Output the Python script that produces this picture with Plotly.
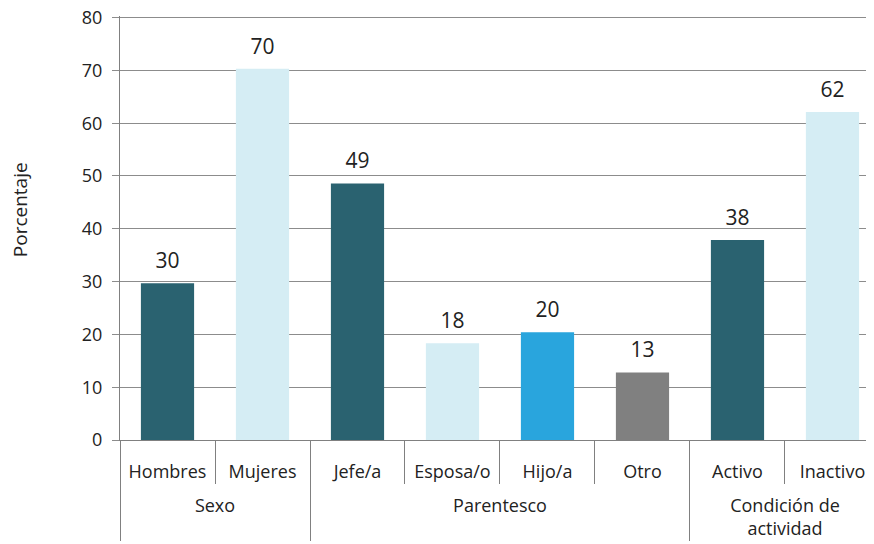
import plotly.graph_objects as go

grupos = ["Sexo", "Sexo", "Parentesco", "Parentesco", "Parentesco", "Parentesco",
          "Condición de<br>actividad", "Condición de<br>actividad"]
categorias = ["Hombres", "Mujeres", "Jefe/a", "Esposa/o", "Hijo/a", "Otro", "Activo", "Inactivo"]
valores = [29.7, 70.3, 48.6, 18.3, 20.4, 12.8, 37.9, 62.1]
etiquetas = ["30", "70", "49", "18", "20", "13", "38", "62"]
colores = ["#2a6270", "#d5edf4", "#2a6270", "#d5edf4", "#29a5dd", "#808080", "#2a6270", "#d5edf4"]
titulo_y = "Porcentaje"

FONT = "Open Sans"
# group labels are pushed one line lower, like the reference
grupos_eje = ["<br>" + g for g in grupos]
x_eje = [grupos_eje, categorias]

fig = go.Figure()
fig.add_bar(
    x=x_eje, y=valores,
    marker=dict(color=colores, line=dict(width=0)),
    width=0.56, showlegend=False, hoverinfo="x+y",
)
fig.add_scatter(
    x=x_eje, y=valores, mode="markers+text",
    text=etiquetas, textposition="top center",
    textfont=dict(family=FONT, size=21, color="#222222"),
    marker=dict(size=14, opacity=0),
    cliponaxis=False, showlegend=False, hoverinfo="skip",
)

fig.update_layout(
    width=874, height=544,
    margin=dict(l=112, r=8, t=8, b=112),
    paper_bgcolor="white", plot_bgcolor="white",
    font=dict(family=FONT, color="#222222"),
    annotations=[dict(
        text=titulo_y, textangle=-90, showarrow=False,
        xref="paper", yref="paper", x=-0.1326, y=0.542,
        xanchor="center", yanchor="middle",
        font=dict(family=FONT, size=19, color="#222222"),
    )],
)
fig.update_yaxes(
    range=[0, 80.3], dtick=10, tick0=0, automargin=False,
    showgrid=True, gridcolor="#8c8c8c", gridwidth=1,
    showline=True, linecolor="#808080", linewidth=1,
    ticks="outside", ticklen=7, tickcolor="#8c8c8c",
    ticklabelstandoff=6, ticklabeloverflow="allow",
    tickfont=dict(family=FONT, size=18, color="#222222"),
    zeroline=False,
)
fig.update_xaxes(
    type="multicategory", automargin=False,
    range=[-0.5, 7.437],
    showline=True, linecolor="#808080", linewidth=1,
    ticks="outside", tickson="boundaries", ticklen=43, tickcolor="#808080",
    ticklabelstandoff=15,
    showdividers=True, dividercolor="#808080", dividerwidth=1,
    tickfont=dict(family=FONT, size=18, color="#222222"),
    showgrid=False,
)

fig.write_html("out.html")
